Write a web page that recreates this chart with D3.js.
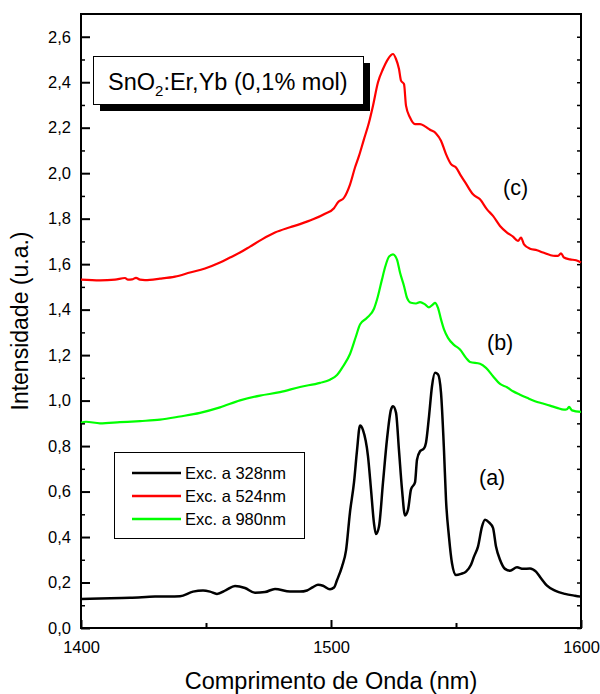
<!DOCTYPE html>
<html>
<head>
<meta charset="utf-8">
<script src="https://cdn.jsdelivr.net/npm/d3@7/dist/d3.min.js"></script>
<style>
  html, body { margin: 0; padding: 0; background: #fff; }
  svg { display: block; font-family: "Liberation Sans", Arial, sans-serif; }
</style>
</head>
<body>
<svg id="chart" width="600" height="694"></svg>
<script>
// ---- Data ----
const wavelengthA = [1400,1407.6,1419.6,1429.6,1439.6,1444.8,1448.8,1451.6,1454.4,1458.0,1461.6,1465.6,1469.6,1473.6,1477.6,1483.6,1487.6,1490.4,1492.8,1494.8,1496.8,1499.6,1501.2,1502.4,1504.4,1506.0,1507.6,1509.2,1510.4,1511.6,1512.8,1514.8,1516.0,1517.2,1518.0,1519.2,1520.8,1522.4,1524.0,1524.8,1526.0,1527.2,1528.4,1529.6,1530.8,1532.0,1533.6,1534.4,1535.6,1537.2,1538.0,1539.2,1540.4,1541.6,1542.8,1544.0,1545.2,1546.0,1547.2,1548.4,1550.0,1552.0,1554.0,1556.0,1557.2,1558.8,1560.4,1561.6,1563.2,1564.8,1566.0,1567.6,1569.6,1571.6,1574.4,1576.8,1579.6,1582.0,1584.0,1586.4,1589.6,1593.6,1597.6,1600];
const intensityA = [0.128,0.130,0.133,0.138,0.140,0.160,0.165,0.160,0.150,0.167,0.185,0.176,0.155,0.158,0.172,0.160,0.160,0.165,0.180,0.190,0.186,0.170,0.178,0.210,0.270,0.340,0.510,0.640,0.780,0.890,0.870,0.755,0.610,0.460,0.413,0.446,0.640,0.830,0.960,0.975,0.947,0.780,0.610,0.495,0.520,0.610,0.640,0.740,0.777,0.790,0.815,0.930,1.063,1.122,1.115,1.035,0.780,0.564,0.400,0.285,0.233,0.238,0.248,0.278,0.314,0.358,0.446,0.476,0.464,0.440,0.358,0.300,0.260,0.252,0.267,0.260,0.262,0.248,0.219,0.186,0.164,0.150,0.142,0.138];

const wavelengthB = [1400,1402,1407.6,1415.6,1423.6,1431.6,1439.6,1447.6,1455.6,1463.6,1471.6,1479.6,1487.6,1495.6,1499.6,1502.4,1504.8,1507.6,1510.0,1511.6,1514.4,1517.2,1518.8,1520.4,1521.6,1523.2,1524.8,1526.4,1527.6,1529.2,1530.4,1532.0,1534.0,1535.6,1537.6,1539.2,1540.8,1541.6,1542.8,1544.0,1545.2,1546.8,1549.2,1551.6,1554.0,1555.6,1559.6,1562.0,1564.8,1567.6,1570.4,1572.8,1575.6,1578.4,1581.6,1584.8,1587.6,1590.4,1593.2,1594.4,1595.2,1596.4,1600];
const intensityB = [0.902,0.907,0.900,0.905,0.910,0.916,0.930,0.946,0.970,1.001,1.022,1.037,1.060,1.078,1.092,1.112,1.150,1.205,1.283,1.335,1.364,1.404,1.460,1.533,1.585,1.633,1.643,1.620,1.563,1.504,1.452,1.430,1.427,1.433,1.423,1.410,1.423,1.430,1.408,1.357,1.313,1.276,1.245,1.225,1.188,1.170,1.162,1.144,1.107,1.073,1.059,1.041,1.026,1.012,0.997,0.987,0.978,0.968,0.960,0.962,0.972,0.957,0.950];

const wavelengthC = [1400,1407.6,1413.6,1417.6,1418.8,1420.4,1422.0,1423.6,1425.6,1431.6,1437.6,1443.6,1449.6,1455.6,1459.6,1463.6,1467.6,1472.4,1477.6,1483.6,1487.6,1492.8,1497.6,1501.2,1502.8,1505.2,1507.6,1509.6,1511.2,1513.2,1515.2,1516.8,1518.8,1520.8,1522.8,1524.8,1526.0,1527.2,1528.0,1529.2,1530.0,1531.6,1533.6,1535.6,1537.6,1539.6,1542.0,1544.0,1546.0,1548.0,1550.0,1552.0,1554.0,1556.8,1559.6,1562.4,1564.8,1567.6,1570.4,1572.8,1574.8,1576.0,1577.2,1579.6,1582.4,1584.8,1587.6,1589.6,1590.8,1592.0,1593.2,1595.6,1598.0,1600];
const intensityC = [1.532,1.529,1.532,1.539,1.532,1.533,1.540,1.532,1.530,1.536,1.545,1.563,1.581,1.607,1.629,1.651,1.677,1.709,1.739,1.762,1.776,1.797,1.822,1.846,1.872,1.892,1.950,2.025,2.076,2.150,2.223,2.297,2.400,2.458,2.502,2.524,2.502,2.458,2.407,2.392,2.297,2.245,2.216,2.216,2.206,2.191,2.175,2.143,2.084,2.040,2.025,1.988,1.954,1.907,1.885,1.841,1.812,1.768,1.739,1.721,1.702,1.717,1.687,1.668,1.661,1.651,1.640,1.636,1.636,1.648,1.629,1.621,1.617,1.607];

const seriesNames = ["Exc. a 328nm", "Exc. a 524nm", "Exc. a 980nm"];
const seriesColors = ["#000000", "#ff0000", "#00ff00"];
const curveLabels = ["(a)", "(c)", "(b)"];

const xTickValues = [1400, 1500, 1600];
const xTickLabels = ["1400", "1500", "1600"];
const xMinorTicks = [1450, 1550];
const yTickValues = [0, 0.2, 0.4, 0.6, 0.8, 1.0, 1.2, 1.4, 1.6, 1.8, 2.0, 2.2, 2.4, 2.6];
const yTickLabels = ["0,0","0,2","0,4","0,6","0,8","1,0","1,2","1,4","1,6","1,8","2,0","2,2","2,4","2,6"];
const yMinorTicks = [0.1,0.3,0.5,0.7,0.9,1.1,1.3,1.5,1.7,1.9,2.1,2.3,2.5];

const titleMain = "SnO";
const titleSub = "2";
const titleRest = ":Er,Yb (0,1% mol)";
const xTitle = "Comprimento de Onda (nm)";
const yTitle = "Intensidade (u.a.)";

// ---- Layout ----
const L = 81, R = 581, T = 14, B = 628;
const svg = d3.select("#chart");
const x = d3.scaleLinear().domain([1400, 1600]).range([L, R]);
const y = d3.scaleLinear().domain([0, 2.7]).range([B, T]);

// Frame
svg.append("rect").attr("x", L).attr("y", T).attr("width", R - L).attr("height", B - T)
  .attr("fill", "none").attr("stroke", "#000").attr("stroke-width", 2);

// Curves
const line = d3.line().x(d => x(d[0])).y(d => y(d[1])).curve(d3.curveMonotoneX);
const seriesData = [
  d3.zip(wavelengthA, intensityA),
  d3.zip(wavelengthC, intensityC),
  d3.zip(wavelengthB, intensityB)
];
seriesData.forEach((data, i) => {
  svg.append("path").datum(data).attr("d", line)
    .attr("fill", "none").attr("stroke", seriesColors[i])
    .attr("stroke-width", i === 0 ? 2.5 : 2.2).attr("stroke-linejoin", "round");
});

// Axes (ticks inward)
const fontFam = "Liberation Sans, Arial, sans-serif";
const xAxis = d3.axisBottom(x).tickValues(xTickValues).tickFormat((d, i) => xTickLabels[i])
  .tickSizeInner(-8).tickSizeOuter(0).tickPadding(13);
const gx = svg.append("g").attr("transform", `translate(0,${B})`).call(xAxis);
gx.select(".domain").remove();
gx.selectAll("line").attr("stroke-width", 2);
gx.selectAll("text").attr("font-size", 16.5).attr("font-family", fontFam);

const xMinor = d3.axisBottom(x).tickValues(xMinorTicks).tickFormat("").tickSizeInner(-5).tickSizeOuter(0);
const gxm = svg.append("g").attr("transform", `translate(0,${B})`).call(xMinor);
gxm.select(".domain").remove();
gxm.selectAll("line").attr("stroke-width", 2);

const yAxis = d3.axisLeft(y).tickValues(yTickValues).tickFormat((d, i) => yTickLabels[i])
  .tickSizeInner(-9).tickSizeOuter(0).tickPadding(10);
const gy = svg.append("g").attr("transform", `translate(${L},0)`).call(yAxis);
gy.select(".domain").remove();
gy.selectAll("line").attr("stroke-width", 2);
gy.selectAll("text").attr("font-size", 16.5).attr("font-family", fontFam);

const yMinor = d3.axisLeft(y).tickValues(yMinorTicks).tickFormat("").tickSizeInner(-4).tickSizeOuter(0);
const gym = svg.append("g").attr("transform", `translate(${L},0)`).call(yMinor);
gym.select(".domain").remove();
gym.selectAll("line").attr("stroke-width", 1.5);

const yRight = d3.axisRight(y).tickValues(yTickValues.concat(yMinorTicks)).tickFormat("").tickSizeInner(-4).tickSizeOuter(0);
const gyr = svg.append("g").attr("transform", `translate(${R},0)`).call(yRight);
gyr.select(".domain").remove();
gyr.selectAll("line").attr("stroke-width", 1.5);

// Axis titles
svg.append("text").attr("x", (L + R) / 2).attr("y", 689).attr("text-anchor", "middle")
  .attr("font-size", 23.5).text(xTitle);
svg.append("text").attr("transform", `translate(28,${(T + B) / 2}) rotate(-90)`)
  .attr("text-anchor", "middle").attr("font-size", 23).text(yTitle);

// Title box with shadow
svg.append("rect").attr("x", 100).attr("y", 63).attr("width", 270).attr("height", 48).attr("fill", "#000");
svg.append("rect").attr("x", 93.5).attr("y", 56.5).attr("width", 270).attr("height", 48)
  .attr("fill", "#fff").attr("stroke", "#000").attr("stroke-width", 1);
const tt = svg.append("text").attr("x", 108).attr("y", 90).attr("font-size", 23.5);
tt.append("tspan").text(titleMain);
tt.append("tspan").attr("font-size", 15).attr("dy", 6).text(titleSub);
tt.append("tspan").attr("dy", -6).text(titleRest);

// Legend
svg.append("rect").attr("x", 114.5).attr("y", 452.5).attr("width", 190).attr("height", 86)
  .attr("fill", "#fff").attr("stroke", "#000").attr("stroke-width", 1);
seriesNames.forEach((name, i) => {
  const yy = 473 + i * 23;
  svg.append("line").attr("x1", 132).attr("x2", 181).attr("y1", yy).attr("y2", yy)
    .attr("stroke", seriesColors[i]).attr("stroke-width", 2.5);
  svg.append("text").attr("x", 185).attr("y", yy).attr("dy", "0.35em")
    .attr("font-size", 16.5).text(name);
});

// Curve labels
const labelPos = [[479, 485], [503, 195], [487, 350]];
curveLabels.forEach((t, i) => {
  svg.append("text").attr("x", labelPos[i][0]).attr("y", labelPos[i][1])
    .attr("font-size", 21.5).text(t);
});
</script>
</body>
</html>
